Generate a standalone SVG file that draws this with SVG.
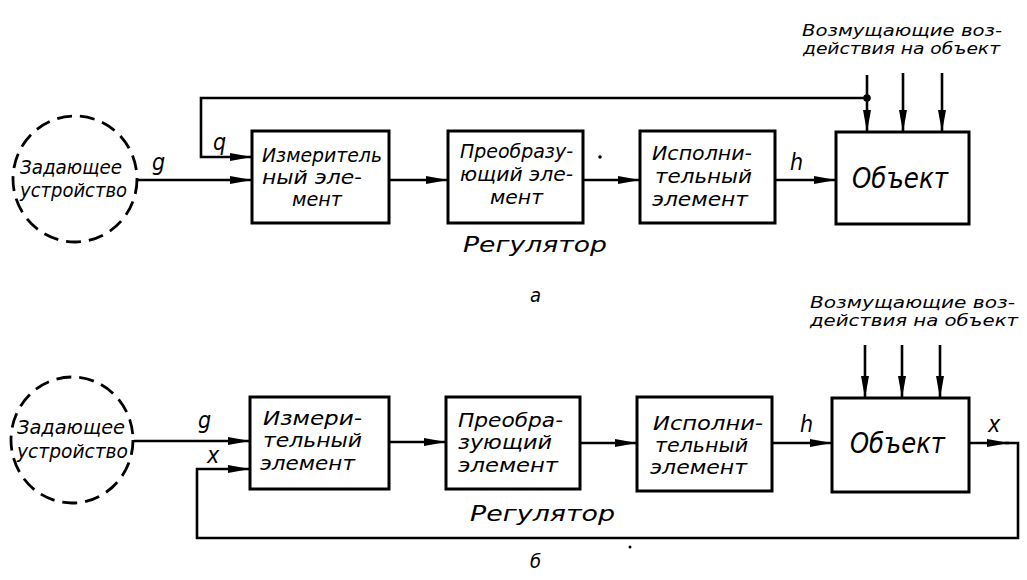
<svg xmlns="http://www.w3.org/2000/svg" width="1027" height="580" viewBox="0 0 1027 580">
<style>
.bg{fill:#fff}
.box{fill:#fff;stroke:#000;stroke-width:3}
.circ{fill:none;stroke:#000;stroke-width:2.8;stroke-dasharray:15 8}
.ln{fill:none;stroke:#000;stroke-width:2.6}
.t{font-family:"DejaVu Sans Condensed","Liberation Sans Narrow","Liberation Sans",sans-serif;font-style:italic;font-size:20px;fill:#000}
.cs{font-size:19px}
.ds{font-size:16px}
.lbl{font-size:23px}
.big{font-size:28px}
.reg{font-size:21px}
</style>
<defs>
<marker id="ah" markerUnits="userSpaceOnUse" markerWidth="24" markerHeight="10" refX="22" refY="4" orient="auto">
<path d="M0,0 L22,4 L0,8 z" fill="#000"/>
</marker>
</defs>
<rect class="bg" x="0" y="0" width="1027" height="580"/>

<g id="connectors">
<!-- diagram a -->
<path class="ln" d="M136,180 H252" marker-end="url(#ah)"/>
<path class="ln" d="M867,98 H201 V157 H252" marker-end="url(#ah)"/>
<path class="ln" d="M389,180 H448" marker-end="url(#ah)"/>
<path class="ln" d="M583,180 H640" marker-end="url(#ah)"/>
<path class="ln" d="M775,180 H836" marker-end="url(#ah)"/>
<path class="ln" d="M867,75 V132" marker-end="url(#ah)"/>
<path class="ln" d="M903,73 V132" marker-end="url(#ah)"/>
<path class="ln" d="M942,73 V132" marker-end="url(#ah)"/>
<circle cx="867" cy="98" r="3.8" fill="#000"/>
<circle cx="600" cy="157" r="1.8" fill="#000"/>
<!-- diagram b -->
<path class="ln" d="M134,441 H250" marker-end="url(#ah)"/>
<path class="ln" d="M389,442 H446" marker-end="url(#ah)"/>
<path class="ln" d="M580,443 H637" marker-end="url(#ah)"/>
<path class="ln" d="M772,443 H832" marker-end="url(#ah)"/>
<path class="ln" d="M969,443 H1009" marker-end="url(#ah)"/>
<path class="ln" d="M1005,443 H1018 V538 H197 V469 H250" marker-end="url(#ah)"/>
<path class="ln" d="M865,345 V398" marker-end="url(#ah)"/>
<path class="ln" d="M902,345 V398" marker-end="url(#ah)"/>
<path class="ln" d="M940,345 V398" marker-end="url(#ah)"/>
<circle cx="630" cy="547" r="1.5" fill="#000"/>
</g>

<!-- ===== Diagram a ===== -->
<g id="a-setter">
<ellipse class="circ" cx="75" cy="179" rx="62" ry="63"/>
<text class="t cs" x="20" y="174" textLength="102" lengthAdjust="spacingAndGlyphs">Задающее</text>
<text class="t cs" x="20" y="197" textLength="107" lengthAdjust="spacingAndGlyphs">устройство</text>
</g>
<g id="a-measure">
<rect class="box" x="252" y="131" width="137" height="92"/>
<text class="t" x="262" y="162" textLength="120" lengthAdjust="spacingAndGlyphs">Измеритель</text>
<text class="t" x="262" y="184" textLength="100" lengthAdjust="spacingAndGlyphs">ный эле-</text>
<text class="t" x="292" y="206" textLength="50" lengthAdjust="spacingAndGlyphs">мент</text>
</g>
<g id="a-convert">
<rect class="box" x="448" y="131" width="135" height="92"/>
<text class="t" x="460" y="158" textLength="113" lengthAdjust="spacingAndGlyphs">Преобразу-</text>
<text class="t" x="460" y="181" textLength="113" lengthAdjust="spacingAndGlyphs">ющий эле-</text>
<text class="t" x="490" y="204" textLength="53" lengthAdjust="spacingAndGlyphs">мент</text>
</g>
<g id="a-actuator">
<rect class="box" x="640" y="131" width="135" height="92"/>
<text class="t" x="652" y="160" textLength="100" lengthAdjust="spacingAndGlyphs">Исполни-</text>
<text class="t" x="655" y="183" textLength="97" lengthAdjust="spacingAndGlyphs">тельный</text>
<text class="t" x="652" y="206" textLength="96" lengthAdjust="spacingAndGlyphs">элемент</text>
</g>
<g id="a-object">
<rect class="box" x="836" y="132" width="133" height="92"/>
<text class="t big" x="852" y="188" textLength="96" lengthAdjust="spacingAndGlyphs">Объект</text>
</g>
<g id="a-labels">
<text class="t lbl" x="152" y="170">g</text>
<text class="t lbl" x="213" y="150">q</text>
<text class="t lbl" x="790" y="170">h</text>
<text class="t reg" x="463" y="252" textLength="144" lengthAdjust="spacingAndGlyphs">Регулятор</text>
<text class="t ds" x="802" y="36" textLength="200" lengthAdjust="spacingAndGlyphs">Возмущающие воз-</text>
<text class="t ds" x="803" y="54" textLength="197" lengthAdjust="spacingAndGlyphs">действия на объект</text>
<text class="t" x="530" y="302" font-size="26">а</text>
</g>

<!-- ===== Diagram b ===== -->
<g id="b-setter">
<ellipse class="circ" cx="72" cy="440" rx="61" ry="63"/>
<text class="t cs" x="17" y="434" textLength="108" lengthAdjust="spacingAndGlyphs">Задающее</text>
<text class="t cs" x="17" y="458" textLength="111" lengthAdjust="spacingAndGlyphs">устройство</text>
</g>
<g id="b-measure">
<rect class="box" x="250" y="397" width="139" height="92"/>
<text class="t" x="263" y="425" textLength="99" lengthAdjust="spacingAndGlyphs">Измери-</text>
<text class="t" x="263" y="447" textLength="99" lengthAdjust="spacingAndGlyphs">тельный</text>
<text class="t" x="260" y="470" textLength="95" lengthAdjust="spacingAndGlyphs">элемент</text>
</g>
<g id="b-convert">
<rect class="box" x="446" y="397" width="134" height="92"/>
<text class="t" x="458" y="427" textLength="105" lengthAdjust="spacingAndGlyphs">Преобра-</text>
<text class="t" x="458" y="449" textLength="94" lengthAdjust="spacingAndGlyphs">зующий</text>
<text class="t" x="458" y="472" textLength="100" lengthAdjust="spacingAndGlyphs">элемент</text>
</g>
<g id="b-actuator">
<rect class="box" x="637" y="397" width="135" height="94"/>
<text class="t" x="653" y="430" textLength="110" lengthAdjust="spacingAndGlyphs">Исполни-</text>
<text class="t" x="655" y="452" textLength="93" lengthAdjust="spacingAndGlyphs">тельный</text>
<text class="t" x="650" y="474" textLength="97" lengthAdjust="spacingAndGlyphs">элемент</text>
</g>
<g id="b-object">
<rect class="box" x="832" y="398" width="137" height="94"/>
<text class="t big" x="850" y="453" textLength="95" lengthAdjust="spacingAndGlyphs">Объект</text>
</g>
<g id="b-labels">
<text class="t lbl" x="198" y="428">g</text>
<text class="t lbl" x="207" y="463">x</text>
<text class="t lbl" x="800" y="432">h</text>
<text class="t lbl" x="988" y="432">x</text>
<text class="t reg" x="470" y="521" textLength="145" lengthAdjust="spacingAndGlyphs">Регулятор</text>
<text class="t ds" x="810" y="308" textLength="205" lengthAdjust="spacingAndGlyphs">Возмущающие воз-</text>
<text class="t ds" x="810" y="326" textLength="208" lengthAdjust="spacingAndGlyphs">действия на объект</text>
<text class="t" x="530" y="568" font-size="24">б</text>
</g>
</svg>
